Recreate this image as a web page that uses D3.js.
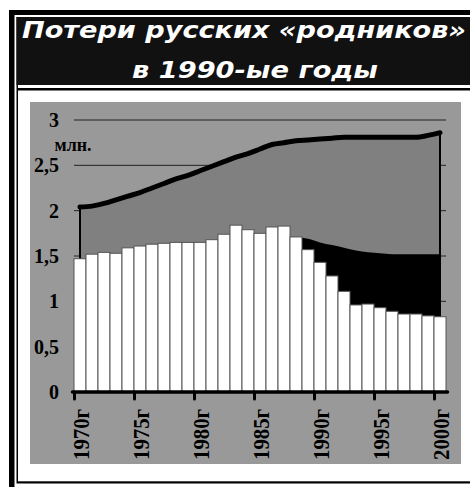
<!DOCTYPE html>
<html><head><meta charset="utf-8">
<script src="https://cdn.jsdelivr.net/npm/d3@7"></script>
<style>html,body{margin:0;padding:0;background:#fff;overflow:hidden}</style>
</head><body>
<svg id="c" width="470" height="487"></svg>
<script>
const titleLines = ["Потери русских «родников»", "в 1990-ые годы"];
const unitLabel = "млн.";
const years = [1970,1971,1972,1973,1974,1975,1976,1977,1978,1979,1980,1981,1982,1983,1984,1985,1986,1987,1988,1989,1990,1991,1992,1993,1994,1995,1996,1997,1998,1999,2000];
const barValues = [1.47,1.52,1.54,1.53,1.59,1.61,1.63,1.64,1.65,1.65,1.65,1.68,1.74,1.84,1.79,1.75,1.82,1.83,1.71,1.57,1.43,1.28,1.11,0.96,0.97,0.93,0.89,0.86,0.86,0.84,0.83];
const totalValues = [2.04,2.05,2.08,2.12,2.16,2.20,2.25,2.30,2.35,2.39,2.44,2.49,2.54,2.59,2.63,2.68,2.73,2.75,2.77,2.78,2.79,2.80,2.81,2.81,2.81,2.81,2.81,2.81,2.81,2.83,2.86];
const lossYears = [1988,1989,1990,1991,1992,1993,1994,1995,1996,1997,1998,1999,2000];
const lossValues = [1.71,1.69,1.65,1.62,1.59,1.56,1.54,1.53,1.52,1.52,1.52,1.52,1.52];
const xTickYears = [1970,1975,1980,1985,1990,1995,2000];
const xTickLabels = ["1970г","1975г","1980г","1985г","1990г","1995г","2000г"];
const yTickValues = [0,0.5,1,1.5,2,2.5,3];
const yTickLabels = ["0","0,5","1","1,5","2","2,5","3"];

const svg = d3.select("#c");
// frame
svg.append("rect").attr("x",9).attr("y",10).attr("width",500).attr("height",500).attr("fill","#000");
svg.append("rect").attr("x",14.5).attr("y",15).attr("width",500).attr("height",500).attr("fill","#fff");
svg.append("rect").attr("x",16.5).attr("y",17).attr("width",500).attr("height",466.5).attr("fill","#000");
svg.append("rect").attr("x",18).attr("y",85).attr("width",500).attr("height",3).attr("fill","#fff");
svg.append("rect").attr("x",18).attr("y",90.5).attr("width",500).attr("height",390.8).attr("fill","#fff");
svg.append("rect").attr("x",16.5).attr("y",17).attr("width",500).attr("height",68).attr("fill","#111");

const tf = "'DejaVu Sans', Verdana, sans-serif";
svg.append("text").attr("x",22).attr("y",38).text(titleLines[0])
  .attr("font-family",tf).attr("font-weight","bold").attr("font-style","italic").attr("font-size",22.5)
  .attr("fill","#fff").attr("textLength",444).attr("lengthAdjust","spacingAndGlyphs");
svg.append("text").attr("x",132).attr("y",78).text(titleLines[1])
  .attr("font-family",tf).attr("font-weight","bold").attr("font-style","italic").attr("font-size",22.5)
  .attr("fill","#fff").attr("textLength",246).attr("lengthAdjust","spacingAndGlyphs");

// plot area
svg.append("rect").attr("x",30).attr("y",102).attr("width",431).attr("height",362).attr("fill","#999999");

const x = d3.scaleBand().domain(years).range([74,446]).padding(0);
const xl = d3.scaleLinear().domain([1970,2001]).range([74,446]);
const y = d3.scaleLinear().domain([0,3]).range([392,120]);
const cx = d => x(d) + x.bandwidth()/2;

// gridlines
svg.append("g").selectAll("line").data(yTickValues.filter(v=>v>0)).join("line")
  .attr("x1",74).attr("x2",446).attr("y1",d=>y(d)).attr("y2",d=>y(d))
  .attr("stroke","#222").attr("stroke-width",1);

// gray area
const area = d3.area().x((d,i)=>cx(years[i])).y0(y(0)).y1(d=>y(d)).curve(d3.curveMonotoneX);
svg.append("path").datum(totalValues).attr("d",area).attr("fill","#808080").attr("stroke","#000").attr("stroke-width",2);
// black area
const area2 = d3.area().x((d,i)=>cx(lossYears[i])).y0(y(0)).y1(d=>y(d)).curve(d3.curveMonotoneX);
svg.append("path").datum(lossValues).attr("d",area2).attr("fill","#000");

// bars
svg.append("g").selectAll("rect").data(barValues).join("rect")
  .attr("x",(d,i)=>x(years[i])).attr("width",x.bandwidth())
  .attr("y",d=>y(d)).attr("height",d=>y(0)-y(d))
  .attr("fill","#fff").attr("stroke","#555").attr("stroke-width",1);

// top line
const line = d3.line().x((d,i)=>cx(years[i])).y(d=>y(d)).curve(d3.curveMonotoneX);
svg.append("path").datum(totalValues).attr("d",line).attr("fill","none")
  .attr("stroke","#000").attr("stroke-width",5).attr("stroke-linecap","round").attr("stroke-linejoin","round");

// x axis
const lf = "'Liberation Serif','Times New Roman',serif";
const xAxis = d3.axisBottom(xl).tickValues(xTickYears).tickFormat((d,i)=>xTickLabels[i]).tickSize(7).tickSizeOuter(0);
const gx = svg.append("g").attr("transform",`translate(0,${y(0)})`).call(xAxis);
gx.select(".domain").attr("stroke","#000").attr("stroke-width",3.5).attr("stroke-linecap","round")
  .attr("d",`M72.5,0H447.5`);
gx.selectAll(".tick line").attr("stroke","#000").attr("stroke-width",3).attr("stroke-linecap","round");
gx.selectAll(".tick text").attr("transform","rotate(-90)").attr("x",-17).attr("y",14.5).attr("dy",0)
  .attr("text-anchor","end").attr("font-family",lf).attr("font-weight","bold").attr("font-size",24).attr("fill","#000")
  .attr("textLength",51).attr("lengthAdjust","spacingAndGlyphs");

// y labels
svg.append("g").selectAll("text").data(yTickValues).join("text")
  .attr("x",59).attr("y",d=>y(d)).attr("dy","0.35em").attr("text-anchor","end")
  .attr("font-family",lf).attr("font-weight","bold").attr("font-size",20).attr("fill","#000")
  .text((d,i)=>yTickLabels[i]);
svg.append("text").attr("x",54.5).attr("y",151).text(unitLabel)
  .attr("font-family",lf).attr("font-weight","bold").attr("font-size",18).attr("fill","#000")
  .attr("textLength",37).attr("lengthAdjust","spacingAndGlyphs");
</script>
</body></html>
